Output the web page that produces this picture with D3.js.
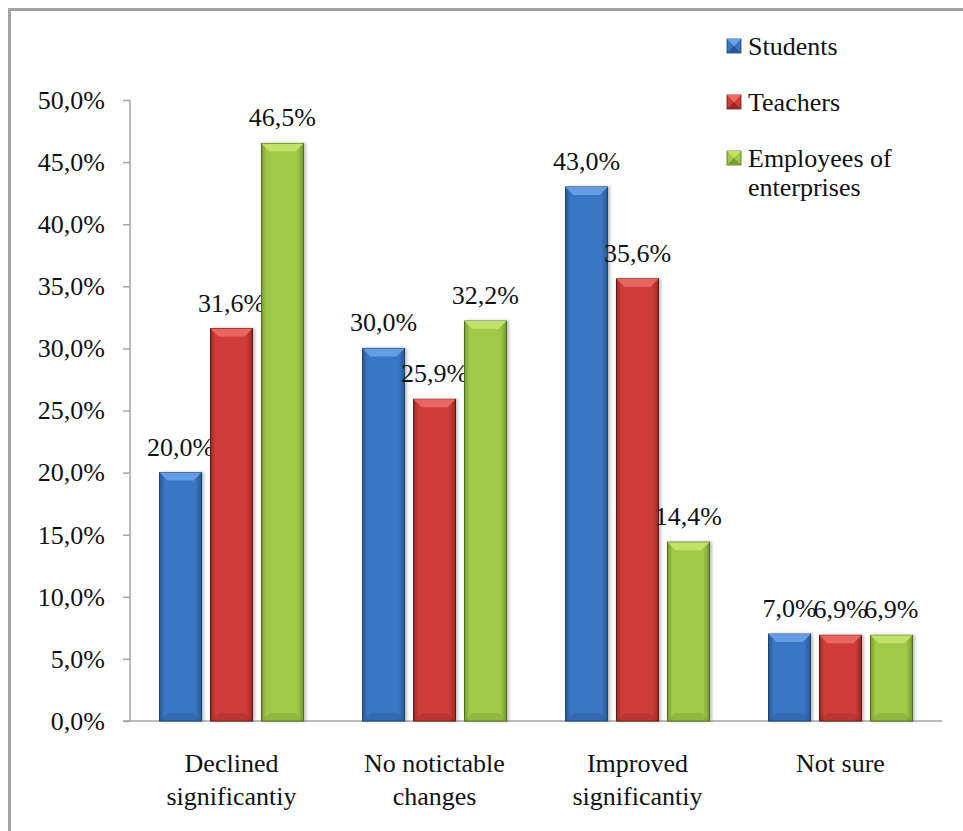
<!DOCTYPE html>
<html><head><meta charset="utf-8">
<script src="https://cdn.jsdelivr.net/npm/d3@7"></script>
<style>body{margin:0;background:#fff}svg{display:block} svg text{font-family:"Liberation Serif","Times New Roman",serif !important;}</style>
</head><body>
<script>
const categories = [["Declined","significantiy"],["No notictable","changes"],["Improved","significantiy"],["Not sure"]];
const seriesNames = ["Students","Teachers","Employees of enterprises"];
const legendLines = [["Students"],["Teachers"],["Employees of","enterprises"]];
const students  = [20.0, 30.0, 43.0, 7.0];
const teachers  = [31.6, 25.9, 35.6, 6.9];
const employees = [46.5, 32.2, 14.4, 6.9];
const yTicks = [0,5,10,15,20,25,30,35,40,45,50];

const W = 963, H = 831;
const margin = {left:130, right:21, top:100, bottom:110};
const FS = 26;
const palette = [
  {main:"#3a76c4", edge:"#285896", light:"#6aa2e8", stroke:"#1f3f66"},
  {main:"#cf3c39", edge:"#9c2826", light:"#ec6a66", stroke:"#5e1a18"},
  {main:"#a2c84a", edge:"#789c2e", light:"#c4e46a", stroke:"#4e6a1a"}
];
const series = [students, teachers, employees];
const fmt = v => d3.format(".1f")(v).replace(".", ",") + "%";

const svg = d3.select("body").append("svg").attr("width", W).attr("height", H);
const defs = svg.append("defs");
palette.forEach((p,i)=>{
  const g = defs.append("linearGradient").attr("id","g"+i).attr("x1","0").attr("x2","1").attr("y1","0").attr("y2","0");
  g.append("stop").attr("offset","0").attr("stop-color",p.edge);
  g.append("stop").attr("offset","0.12").attr("stop-color",p.main);
  g.append("stop").attr("offset","0.85").attr("stop-color",p.main);
  g.append("stop").attr("offset","1").attr("stop-color",p.edge);
});
const f = defs.append("filter").attr("id","sh").attr("x","-20%").attr("y","-5%").attr("width","140%").attr("height","110%");
f.append("feDropShadow").attr("dx",2).attr("dy",0).attr("stdDeviation",1.5).attr("flood-color","#000").attr("flood-opacity",0.25);

// outer frame
svg.append("path").attr("d", `M9.5,${H} L9.5,9.5 L${W},9.5`).attr("fill","none").attr("stroke","#a3a3a3").attr("stroke-width",3);

const x0 = d3.scaleBand().domain(d3.range(categories.length)).range([margin.left, W - margin.right]);
const x1 = d3.scaleBand().domain(d3.range(seriesNames.length)).range([0, x0.bandwidth()]).paddingInner(0.176).paddingOuter(0.58);
const y = d3.scaleLinear().domain([0,50]).range([H - margin.bottom, margin.top]);

// y axis
const yAxis = svg.append("g").attr("transform", `translate(${margin.left},0)`)
  .call(d3.axisLeft(y).tickValues(yTicks).tickSize(7).tickPadding(18).tickFormat(fmt));
yAxis.attr("font-family", null);
yAxis.selectAll("path,line").attr("stroke","#a6a6a6").attr("stroke-width",1.5);
yAxis.select(".domain").attr("d", `M0,${y(50)}V${y(0)}`);
yAxis.selectAll("text").attr("font-size",FS).attr("fill","#111");

// x axis line
svg.append("line").attr("x1", margin.left - 7).attr("x2", W - margin.right).attr("y1", y(0)).attr("y2", y(0))
  .attr("stroke","#a6a6a6").attr("stroke-width",1.5);

// bars
categories.forEach((c, ci)=>{
  series.forEach((s, si)=>{
    const v = s[ci], bx = x0(ci) + x1(si), bw = x1.bandwidth(), by = y(v), bh = y(0) - y(v);
    const p = palette[si];
    const g = svg.append("g");
    g.append("rect").attr("x",bx).attr("y",by).attr("width",bw).attr("height",bh)
      .attr("fill",`url(#g${si})`).attr("stroke",p.stroke).attr("stroke-width",1).attr("filter","url(#sh)");
    const b = 8;
    g.append("path").attr("d",`M${bx},${by}L${bx+bw},${by}L${bx+bw-b},${by+b}L${bx+b},${by+b}Z`).attr("fill",p.light).attr("opacity",0.9);
    g.append("path").attr("d",`M${bx},${by+bh}L${bx+bw},${by+bh}L${bx+bw-b},${by+bh-b}L${bx+b},${by+bh-b}Z`).attr("fill",p.edge).attr("opacity",0.35);
    svg.append("text").attr("x", bx + bw/2).attr("y", by - 17).attr("text-anchor","middle")
      .attr("font-size",FS).attr("fill","#111").text(fmt(v));
  });
  const t = svg.append("text").attr("text-anchor","middle").attr("font-size",FS).attr("fill","#111");
  c.forEach((line, li)=>{
    t.append("tspan").attr("x", x0(ci) + x0.bandwidth()/2).attr("y", 772 + li*33).text(line);
  });
});

// legend
legendLines.forEach((lines, i)=>{
  const ly = 39 + i*56;
  const p = palette[i];
  const s = 14, lx = 727;
  svg.append("rect").attr("x",lx).attr("y",ly).attr("width",s).attr("height",s).attr("fill",p.main).attr("stroke",p.stroke).attr("stroke-width",0.8);
  svg.append("path").attr("d",`M${lx},${ly}L${lx+s},${ly}L${lx+s/2},${ly+s/2}Z`).attr("fill",p.light);
  svg.append("path").attr("d",`M${lx},${ly+s}L${lx+s},${ly+s}L${lx+s/2},${ly+s/2}Z`).attr("fill",p.edge);
  const t = svg.append("text").attr("font-size",FS).attr("fill","#111");
  lines.forEach((ln, li)=>{
    t.append("tspan").attr("x", 748).attr("y", ly + 16 + li*29).text(ln);
  });
});
</script>
</body></html>
